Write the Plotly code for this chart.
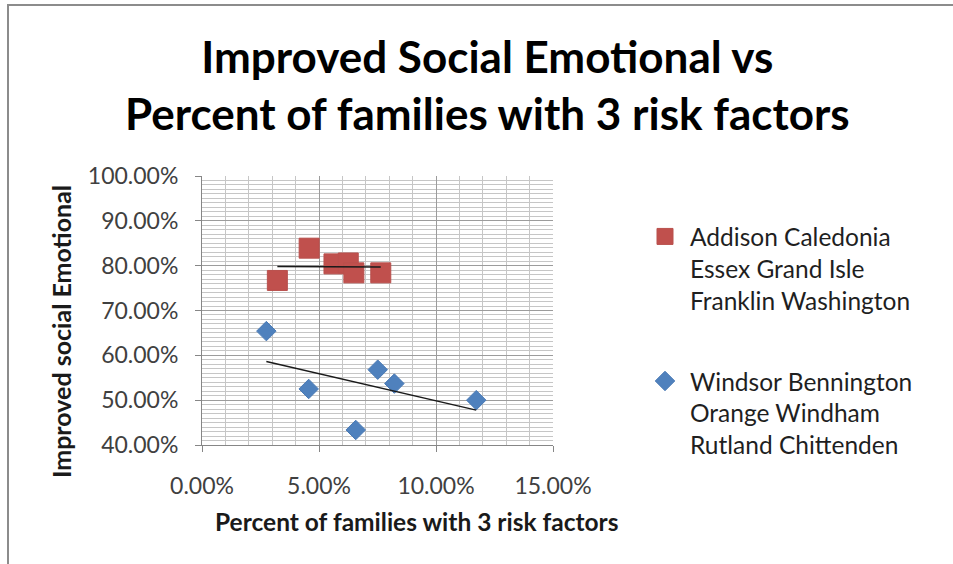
import numpy as np
import plotly.graph_objects as go

# Percent of families with 3 risk factors (x) vs improved social emotional (y)
red_name = "Addison Caledonia<br>Essex Grand Isle<br>Franklin Washington"
red_x = [0.0322, 0.0458, 0.0564, 0.0625, 0.0649, 0.0764]
red_y = [0.767, 0.839, 0.804, 0.806, 0.784, 0.784]

blue_name = "Windsor Bennington<br>Orange Windham<br>Rutland Chittenden"
blue_x = [0.0275, 0.0456, 0.0657, 0.0751, 0.0822, 0.1172]
blue_y = [0.654, 0.525, 0.4335, 0.568, 0.537, 0.500]

title_text = "Improved Social Emotional vs<br>Percent of families with 3 risk factors"
x_title = "Percent of families with 3 risk factors"
y_title = "Improved social Emotional"

RED = "#C0504D"
BLUE = "#4F81BD"
W, H = 953, 564
ML, MR, MT, MB = 202, 400, 176, 119
FONT = "Lato"


def trend(xs, ys):
    # least-squares linear trendline spanning the series' x extent
    k, b = np.polyfit(xs, ys, 1)
    xx = np.array([min(xs), max(xs)])
    return xx, k * xx + b


fig = go.Figure()

fig.add_trace(go.Scatter(
    x=red_x, y=red_y, mode="markers", name=red_name, legendgroup="a",
    marker=dict(symbol="square", size=20, color=RED, line=dict(color="#B9504D", width=1)),
))
fig.add_trace(go.Scatter(
    x=blue_x, y=blue_y, mode="markers", name=blue_name, legendgroup="b",
    marker=dict(symbol="diamond", size=15, color=BLUE, line=dict(color="#4A7AB5", width=1)),
))

for xs, ys in ((red_x, red_y), (blue_x, blue_y)):
    tx, ty = trend(xs, ys)
    fig.add_trace(go.Scatter(
        x=tx, y=ty, mode="lines", showlegend=False, hoverinfo="skip",
        line=dict(color="#1a1a1a", width=1.5),
    ))

axis_common = dict(
    showline=True, linecolor="#868686", linewidth=1,
    ticks="outside", ticklen=6, tickcolor="#868686",
    showgrid=True, gridcolor="#9C9C9C", gridwidth=1,
    zeroline=False,
    tickfont=dict(family=FONT, size=23, color="#404040"),
    tickformat=".2%",
)

minor_grid = dict(dtick=0.01, showgrid=True, gridcolor="#C6C6C6", gridwidth=1, ticks="")

fig.update_xaxes(
    range=[0, 0.15], dtick=0.05, tick0=0, ticklabelstandoff=14,
    minor=minor_grid, **axis_common,
)
fig.update_yaxes(
    range=[0.4, 1.0], dtick=0.1, tick0=0.4, ticklabelstandoff=12,
    minor=minor_grid, **axis_common,
)

pw = W - ML - MR
ph = H - MT - MB


def px_to_paper_x(px):
    return (px - ML) / pw


def px_to_paper_y(py):
    return (H - MB - py) / ph


fig.add_annotation(
    text=f"<b>{title_text}</b>", xref="paper", yref="paper",
    x=px_to_paper_x(487.5), y=px_to_paper_y(84), showarrow=False,
    xanchor="center", yanchor="middle",
    font=dict(family=FONT, size=44, color="black"),
)
fig.add_annotation(
    text=f"<b>{x_title}</b>", xref="paper", yref="paper",
    x=px_to_paper_x(416), y=px_to_paper_y(521), showarrow=False,
    xanchor="center", yanchor="middle",
    font=dict(family=FONT, size=24.5, color="#1a1a1a"),
)
fig.add_annotation(
    text=f"<b>{y_title}</b>", xref="paper", yref="paper", textangle=-90,
    x=px_to_paper_x(61), y=px_to_paper_y(332), showarrow=False,
    xanchor="center", yanchor="middle",
    font=dict(family=FONT, size=25, color="#1a1a1a"),
)

# chart frame (left and top edges)
fig.add_shape(type="line", xref="paper", yref="paper",
              x0=px_to_paper_x(8), x1=px_to_paper_x(8),
              y0=px_to_paper_y(4), y1=px_to_paper_y(H + 5),
              line=dict(color="#8C8C8C", width=2))
fig.add_shape(type="line", xref="paper", yref="paper",
              x0=px_to_paper_x(7), x1=px_to_paper_x(W + 5),
              y0=px_to_paper_y(5), y1=px_to_paper_y(5),
              line=dict(color="#8C8C8C", width=2))

fig.update_layout(
    width=W, height=H,
    margin=dict(l=ML, r=MR, t=MT, b=MB),
    paper_bgcolor="white", plot_bgcolor="white",
    legend=dict(
        xref="container", yref="container",
        x=640 / W, xanchor="left", y=1 - 214 / H, yanchor="top",
        font=dict(family=FONT, size=24.5, color="#1f1f1f"),
        valign="top", tracegroupgap=46, traceorder="grouped",
        bgcolor="rgba(0,0,0,0)", itemwidth=40,
    ),
    showlegend=True,
)

fig.write_html("out.html")
